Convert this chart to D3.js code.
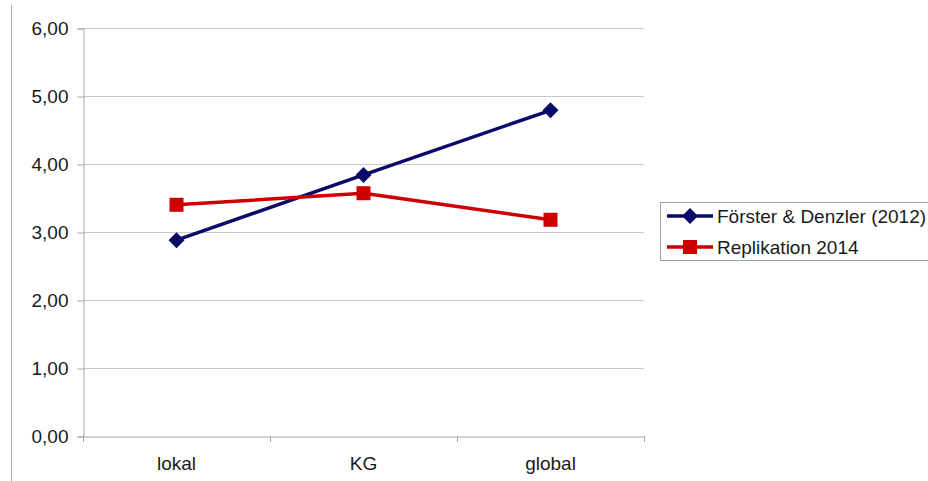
<!DOCTYPE html>
<html><head><meta charset="utf-8">
<script src="https://cdn.jsdelivr.net/npm/d3@7"></script>
<style>body{margin:0;background:#fff;}svg{display:block;font-family:"Liberation Sans",Arial,sans-serif;}</style>
</head><body>
<svg id="c" width="928" height="481"></svg>
<script>
const categories = ["lokal", "KG", "global"];
const seriesNames = ["Förster & Denzler (2012)", "Replikation 2014"];
const foersterValues = [2.88, 3.84, 4.79];
const replikationValues = [3.40, 3.57, 3.18];
const yTicks = [0, 1, 2, 3, 4, 5, 6];

(function () {
const svg = d3.select("#c");
const mLeft = 83, mRight = 644, mTop = 28, mBottom = 436;
const FS = 19;
const x = d3.scaleBand().domain(categories).range([mLeft, mRight]);
const y = d3.scaleLinear().domain([0, 6]).range([mBottom, mTop]);
const fmt = v => d3.format(".2f")(v).replace(".", ",");

svg.append("line").attr("x1", 11.5).attr("x2", 11.5).attr("y1", 5).attr("y2", 481)
  .attr("stroke", "#b0b0b0").attr("stroke-width", 1);

svg.append("g").selectAll("line").data(yTicks.filter(d => d > 0)).join("line")
  .attr("x1", mLeft).attr("x2", mRight)
  .attr("y1", d => Math.round(y(d)) + 0.5).attr("y2", d => Math.round(y(d)) + 0.5)
  .attr("stroke", "#c8c8c8");

const yAxis = svg.append("g").attr("transform", `translate(${mLeft + 0.5},0.5)`)
  .call(d3.axisLeft(y).tickValues(yTicks).tickFormat(fmt).tickSize(6).tickPadding(9));
yAxis.select(".domain").attr("stroke", "#a8a8a8");
yAxis.selectAll(".tick line").attr("stroke", "#a8a8a8");
yAxis.selectAll("text").attr("font-size", FS).attr("fill", "#1a1a1a").attr("font-family", "Liberation Sans, Arial, sans-serif");

const xAxis = svg.append("g").attr("transform", `translate(0,${mBottom + 0.5})`)
  .call(d3.axisBottom(x).tickSize(0).tickPadding(20));
xAxis.select(".domain").attr("stroke", "#a8a8a8");
xAxis.selectAll("text").attr("font-size", FS).attr("fill", "#1a1a1a").attr("font-family", "Liberation Sans, Arial, sans-serif");
const bounds = categories.map(c => x(c)).concat([x(categories[categories.length - 1]) + x.bandwidth()]);
svg.append("g").selectAll("line").data(bounds).join("line")
  .attr("x1", d => Math.round(d) + 0.5).attr("x2", d => Math.round(d) + 0.5)
  .attr("y1", mBottom).attr("y2", mBottom + 6).attr("stroke", "#a8a8a8");

const cx = c => x(c) + x.bandwidth() / 2;
const series = [
  {name: seriesNames[0], values: foersterValues, color: "#0a0a68", marker: "diamond"},
  {name: seriesNames[1], values: replikationValues, color: "#cc0000", marker: "square"}
];
const line = d3.line().x((d, i) => cx(categories[i])).y(d => y(d));
function drawMarker(g, type, color) {
  if (type === "diamond") {
    g.append("path").attr("d", "M0,-8L8,0L0,8L-8,0Z").attr("fill", color);
  } else {
    g.append("rect").attr("x", -7).attr("y", -7).attr("width", 14).attr("height", 14).attr("fill", color);
  }
}
series.forEach(s => {
  svg.append("path").datum(s.values).attr("d", line).attr("fill", "none")
    .attr("stroke", s.color).attr("stroke-width", 3.5).attr("stroke-linejoin", "round");
  s.values.forEach((v, i) => {
    const g = svg.append("g").attr("transform", `translate(${cx(categories[i])},${y(v)})`);
    drawMarker(g, s.marker, s.color);
  });
});

const lg = svg.append("g");
lg.append("rect").attr("x", 660.5).attr("y", 202.5).attr("width", 280).attr("height", 58)
  .attr("fill", "#fff").attr("stroke", "#a0a0a0");
series.forEach((s, i) => {
  const yy = 216 + i * 31;
  lg.append("line").attr("x1", 667).attr("x2", 713).attr("y1", yy).attr("y2", yy)
    .attr("stroke", s.color).attr("stroke-width", 3.5);
  const g = lg.append("g").attr("transform", `translate(690,${yy})`);
  drawMarker(g, s.marker, s.color);
  lg.append("text").attr("x", 717).attr("y", yy + 7).attr("font-size", FS).attr("fill", "#1a1a1a")
    .text(s.name);
});
})();
</script>
</body></html>
